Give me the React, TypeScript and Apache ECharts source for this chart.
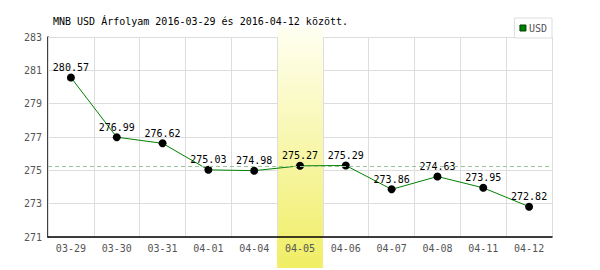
import React, { useEffect, useRef } from "react";
import * as echarts from "echarts";

const categories = ["03-29", "03-30", "03-31", "04-01", "04-04", "04-05", "04-06", "04-07", "04-08", "04-11", "04-12"];
const usdValues = [280.57, 276.99, 276.62, 275.03, 274.98, 275.27, 275.29, 273.86, 274.63, 273.95, 272.82];
const highlightCategory = "04-05";
const referenceValue = 275.27;
const yMin = 271;
const yMax = 283;
const yStep = 2;
const titleText = "MNB USD Árfolyam 2016-03-29 és 2016-04-12 között.";
const seriesName = "USD";

const FONT = "'DejaVu Sans Mono', monospace";

export default function App() {
  const ref = useRef<HTMLDivElement>(null);
  useEffect(() => {
    if (!ref.current) return;
    const chart = echarts.init(ref.current, undefined, { renderer: "svg" });
    chart.setOption({
      animation: false,
      backgroundColor: "#ffffff",
      title: {
        text: titleText,
        left: 48,
        top: 11,
        textStyle: { fontFamily: FONT, fontSize: 10, fontWeight: "normal", color: "#000" },
      },
      legend: {
        right: 48,
        top: 18,
        data: [{ name: seriesName, itemStyle: { color: "#008000", borderColor: "#004000", borderWidth: 1 } }],
        icon: "rect",
        itemWidth: 6,
        itemHeight: 6,
        itemGap: 4,
        padding: [5, 5, 5, 5],
        borderColor: "#dddddd",
        borderWidth: 1,
        backgroundColor: "#ffffff",
        textStyle: { fontFamily: FONT, fontSize: 10, color: "#555", padding: [0, 0, 0, -2] },
      },
      grid: { left: 48, right: 48, top: 37, bottom: 33 },
      xAxis: {
        type: "category",
        data: categories,
        boundaryGap: true,
        z: 2,
        axisLine: { lineStyle: { color: "#000", width: 1.5 } },
        axisTick: { show: false },
        axisLabel: { fontFamily: FONT, fontSize: 10, color: "#555", margin: 6 },
        splitLine: { show: true, lineStyle: { color: "#dddddd", width: 1 } },
      },
      yAxis: {
        type: "value",
        min: yMin,
        max: yMax,
        interval: yStep,
        z: 0,
        axisLine: { show: true, lineStyle: { color: "#000", width: 1.5 } },
        axisTick: { show: false },
        axisLabel: { fontFamily: FONT, fontSize: 10, color: "#555", margin: 6 },
        splitLine: { show: true, lineStyle: { color: "#dddddd", width: 1 } },
      },
      series: [
        {
          name: seriesName,
          type: "line",
          data: usdValues,
          z: 3,
          symbol: "circle",
          symbolSize: 8,
          itemStyle: { color: "#000" },
          lineStyle: { color: "#008000", width: 1 },
          label: {
            show: true,
            position: "top",
            distance: 1,
            fontFamily: FONT,
            fontSize: 10,
            color: "#000",
            formatter: (p: any) => p.value.toFixed(2),
          },
          markLine: {
            silent: true,
            symbol: "none",
            label: { show: false },
            lineStyle: { color: "#99c499", type: [4, 3], width: 1 },
            data: [{ yAxis: referenceValue }],
          },
        },
      ],
    });

    const idx = categories.indexOf(highlightCategory);
    const cx = chart.convertToPixel({ xAxisIndex: 0 }, idx) as number;
    const cxNext = chart.convertToPixel({ xAxisIndex: 0 }, idx + 1) as number;
    const w = Math.abs(cxNext - cx);
    chart.setOption({
      graphic: [
        {
          type: "rect",
          z: 1,
          shape: { x: cx - w / 2, y: 27, width: w, height: 241 },
          style: {
            fill: new echarts.graphic.LinearGradient(0, 0, 0, 1, [
              { offset: 0, color: "#fffff2" },
              { offset: 1, color: "#f0ee64" },
            ]),
          },
        },
      ],
    });

    return () => chart.dispose();
  }, []);
  return <div ref={ref} style={{ position: "fixed", left: 0, top: 0, width: 600, height: 270 }} />;
}
